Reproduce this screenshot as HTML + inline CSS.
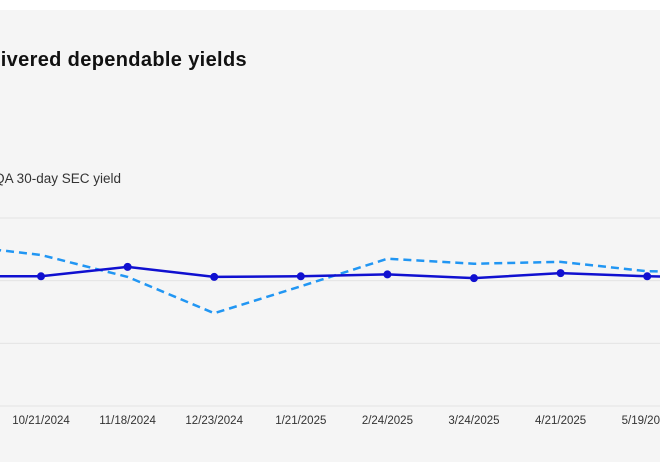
<!DOCTYPE html>
<html><head><meta charset="utf-8"><style>
html,body{margin:0;padding:0;background:#fff;width:660px;height:470px;overflow:hidden}
svg{display:block;font-family:"Liberation Sans",sans-serif}
</style></head><body>
<svg width="660" height="470">
<rect x="0" y="10" width="660" height="452" fill="#f5f5f5"/>
<text x="247" y="66" text-anchor="end" font-size="20" font-weight="bold" letter-spacing="0.35" fill="#111">Delivered dependable yields</text>
<text x="121" y="183" text-anchor="end" font-size="13.5" fill="#333">QQA 30-day SEC yield</text>
<g id="grid"></g><g id="xlabels"></g><g id="series"></g>
</svg>
<script>
const categories=["9/23/2024","10/21/2024","11/18/2024","12/23/2024","1/21/2025","2/24/2025","3/24/2025","4/21/2025","5/19/2025","6/23/2025"];
const fundYield=[2.07,2.07,2.22,2.06,2.07,2.10,2.04,2.12,2.07,2.05];
const secYield=[2.57,2.41,2.06,1.48,1.91,2.35,2.27,2.30,2.15,2.13];
const yTicks=[0,1,2,3];
const NS="http://www.w3.org/2000/svg";
const x0=-45.6,step=86.6;
const xs=i=>x0+i*step;
const ys=v=>406-v*62.67;
function mk(t,a,p){const e=document.createElementNS(NS,t);for(const k in a)e.setAttribute(k,a[k]);p.appendChild(e);return e;}
const g=document.getElementById('grid');
yTicks.forEach(v=>{const l=mk('line',{x1:0,x2:660,y1:ys(v),y2:ys(v),stroke:'#e4e4e4','stroke-width':1},g);

});
const xl=document.getElementById('xlabels');
categories.forEach((c,i)=>{const t=mk('text',{x:xs(i),y:424,'text-anchor':'middle','font-size':11.5,fill:'#333'},xl);t.textContent=c;

});
const s=document.getElementById('series');
const pts=a=>a.map((v,i)=>xs(i)+','+ys(v)).join(' ');
const d=mk('polyline',{points:pts(secYield),fill:'none',stroke:'#2196f3','stroke-width':2.5,'stroke-dasharray':'8,5'},s);


const f=mk('polyline',{points:pts(fundYield),fill:'none',stroke:'#1010d0','stroke-width':2.5},s);


fundYield.forEach((v,i)=>{const c=mk('circle',{cx:xs(i),cy:ys(v),r:4,fill:'#1010d0'},s);

});
</script>
</body></html>
